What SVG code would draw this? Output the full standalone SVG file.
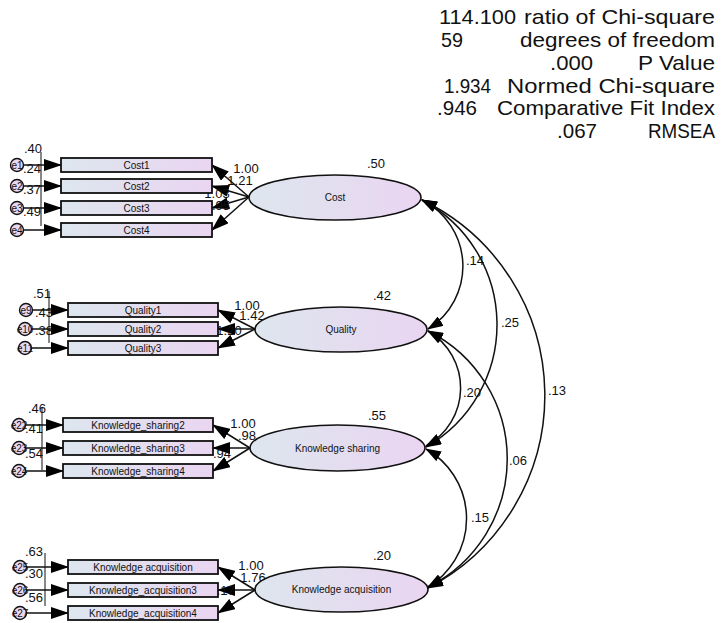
<svg xmlns="http://www.w3.org/2000/svg" width="726" height="623" viewBox="0 0 726 623">
<defs>
<linearGradient id="g" x1="0" y1="0" x2="1" y2="0">
<stop offset="0" stop-color="#dde6ee"/>
<stop offset="1" stop-color="#ead5f1"/>
</linearGradient>
<marker id="ah" markerUnits="userSpaceOnUse" markerWidth="18" markerHeight="12" refX="17" refY="6" orient="auto-start-reverse" viewBox="0 0 18 12">
<path d="M0,0 L18,6 L0,12 z" fill="#000"/>
</marker>
<marker id="ac" markerUnits="userSpaceOnUse" markerWidth="16" markerHeight="11" refX="15" refY="5.5" orient="auto-start-reverse" viewBox="0 0 16 11">
<path d="M0,0 L16,5.5 L0,11 z" fill="#000"/>
</marker>
</defs>
<style>
text{font-family:"Liberation Sans",Arial,sans-serif;fill:#111}
.box{fill:url(#g);stroke:#111;stroke-width:1.8}
.lat{fill:url(#g);stroke:#111;stroke-width:1.6}
.err{fill:#ead8f2;stroke:#111;stroke-width:1.4}
.bl{font-size:10px;text-anchor:middle}
.ll{font-size:10px;text-anchor:middle}
.el{font-size:10px;text-anchor:middle}
.num{font-size:13px}
.mid{text-anchor:middle}
.end{text-anchor:end}
.st{font-size:21px}
.ar{stroke:#111;stroke-width:1.5;fill:none;marker-end:url(#ah)}
.cv{stroke:#111;stroke-width:1.5;fill:none;marker-start:url(#ac);marker-end:url(#ac)}
.tk{stroke:#111;stroke-width:1}
</style>

<g id="fit-stats" class="st">
<text x="439" y="24" textLength="77" lengthAdjust="spacingAndGlyphs">114.100</text><text x="524" y="24" textLength="191" lengthAdjust="spacingAndGlyphs">ratio of Chi-square</text>
<text x="441" y="47" textLength="22" lengthAdjust="spacingAndGlyphs">59</text><text x="520" y="47" textLength="195" lengthAdjust="spacingAndGlyphs">degrees of freedom</text>
<text x="550" y="70" textLength="43" lengthAdjust="spacingAndGlyphs">.000</text><text x="638" y="70" textLength="77" lengthAdjust="spacingAndGlyphs">P Value</text>
<text x="444" y="93" textLength="47" lengthAdjust="spacingAndGlyphs">1.934</text><text x="507" y="93" textLength="208" lengthAdjust="spacingAndGlyphs">Normed Chi-square</text>
<text x="437" y="115" textLength="40" lengthAdjust="spacingAndGlyphs">.946</text><text x="497" y="115" textLength="218" lengthAdjust="spacingAndGlyphs">Comparative Fit Index</text>
<text x="557" y="138" textLength="40" lengthAdjust="spacingAndGlyphs">.067</text><text x="648" y="138" textLength="67" lengthAdjust="spacingAndGlyphs">RMSEA</text>
</g>

<g id="connectors">
<line class="tk" x1="41" y1="152" x2="41" y2="226"/>
<line class="tk" x1="49" y1="291" x2="49" y2="343"/>
<line class="tk" x1="42" y1="407" x2="42" y2="470"/>
<line class="tk" x1="45" y1="553" x2="45" y2="606"/>
<line class="ar" x1="23" y1="165" x2="61" y2="165"/>
<line class="ar" x1="23" y1="186" x2="61" y2="186"/>
<line class="ar" x1="23" y1="208" x2="61" y2="208"/>
<line class="ar" x1="23" y1="230" x2="61" y2="230"/>
<line class="ar" x1="32" y1="310" x2="68" y2="310"/>
<line class="ar" x1="31" y1="329" x2="68" y2="329"/>
<line class="ar" x1="31" y1="348" x2="68" y2="348"/>
<line class="ar" x1="25" y1="425" x2="63" y2="425"/>
<line class="ar" x1="25" y1="448" x2="63" y2="448"/>
<line class="ar" x1="25" y1="471" x2="63" y2="471"/>
<line class="ar" x1="26" y1="567" x2="68" y2="567"/>
<line class="ar" x1="26" y1="590" x2="68" y2="590"/>
<line class="ar" x1="26" y1="613" x2="68" y2="613"/>
<line class="ar" x1="249" y1="197" x2="212" y2="165"/>
<line class="ar" x1="249" y1="197" x2="212" y2="186"/>
<line class="ar" x1="249" y1="197" x2="212" y2="208"/>
<line class="ar" x1="249" y1="197" x2="212" y2="230"/>
<line class="ar" x1="255" y1="329" x2="218" y2="310"/>
<line class="ar" x1="255" y1="329" x2="218" y2="329"/>
<line class="ar" x1="255" y1="329" x2="218" y2="348"/>
<line class="ar" x1="250" y1="448" x2="213" y2="425"/>
<line class="ar" x1="250" y1="448" x2="213" y2="448"/>
<line class="ar" x1="250" y1="448" x2="213" y2="471"/>
<line class="ar" x1="255" y1="590" x2="218" y2="567"/>
<line class="ar" x1="255" y1="590" x2="218" y2="590"/>
<line class="ar" x1="255" y1="590" x2="218" y2="613"/>
<path class="cv" d="M422,200 A74,74 0 0 1 428,329"/>
<path class="cv" d="M422,200 A141,141 0 0 1 426,447"/>
<path class="cv" d="M422,200 A217,217 0 0 1 428,588"/>
<path class="cv" d="M428,331 A66,66 0 0 1 426,446"/>
<path class="cv" d="M428,331 A143,143 0 0 1 428,587"/>
<path class="cv" d="M426,449 A80,80 0 0 1 428,587"/>
</g>

<g id="labels" class="num">
<text x="475" y="265" class="mid">.14</text>
<text x="510" y="327" class="mid">.25</text>
<text x="557" y="395" class="mid">.13</text>
<text x="472" y="397" class="mid">.20</text>
<text x="518" y="465" class="mid">.06</text>
<text x="480" y="522" class="mid">.15</text>
<text x="246" y="173" class="mid">1.00</text>
<text x="240" y="185" class="mid">1.21</text>
<text x="217" y="198" class="mid">1.03</text>
<text x="221" y="210" class="mid">.95</text>
<text x="247" y="310" class="mid">1.00</text>
<text x="252" y="320" class="mid">1.42</text>
<text x="229" y="335" class="mid">1.20</text>
<text x="243" y="428" class="mid">1.00</text>
<text x="247" y="440" class="mid">.98</text>
<text x="222" y="458" class="mid">.94</text>
<text x="251" y="570" class="mid">1.00</text>
<text x="253" y="582" class="mid">1.76</text>
<text x="222" y="595" class="mid">1.17</text>
<text x="33" y="153" class="mid">.40</text>
<text x="41" y="173" class="end">.24</text>
<text x="41" y="194" class="end">.37</text>
<text x="41" y="216" class="end">.49</text>
<text x="42" y="298" class="mid">.51</text>
<text x="53" y="317" class="end">.43</text>
<text x="53" y="335" class="end">.38</text>
<text x="37" y="413" class="mid">.46</text>
<text x="43" y="433" class="end">.41</text>
<text x="43" y="458" class="end">.54</text>
<text x="34" y="556" class="mid">.63</text>
<text x="43" y="578" class="end">.30</text>
<text x="43" y="602" class="end">.56</text>
<text x="376" y="168" class="mid">.50</text>
<text x="382" y="300" class="mid">.42</text>
<text x="377" y="420" class="mid">.55</text>
<text x="382" y="560" class="mid">.20</text>
</g>

<g id="e1"><circle class="err" cx="17" cy="165" r="6.5"/><text class="el" x="17" y="168.5">e1</text></g>
<g id="e2"><circle class="err" cx="17" cy="186" r="6.5"/><text class="el" x="17" y="189.5">e2</text></g>
<g id="e3"><circle class="err" cx="17" cy="208" r="6.5"/><text class="el" x="17" y="211.5">e3</text></g>
<g id="e4"><circle class="err" cx="17" cy="230" r="6.5"/><text class="el" x="17" y="233.5">e4</text></g>
<g id="e9"><circle class="err" cx="26" cy="310" r="6.5"/><text class="el" x="26" y="313.5">e9</text></g>
<g id="e10"><circle class="err" cx="25" cy="329" r="6.5"/><text class="el" x="25" y="332.5">e10</text></g>
<g id="e11"><circle class="err" cx="25" cy="348" r="6.5"/><text class="el" x="25" y="351.5">e11</text></g>
<g id="e22"><circle class="err" cx="19" cy="425" r="6.5"/><text class="el" x="19" y="428.5">e22</text></g>
<g id="e23"><circle class="err" cx="19" cy="448" r="6.5"/><text class="el" x="19" y="451.5">e23</text></g>
<g id="e24"><circle class="err" cx="19" cy="471" r="6.5"/><text class="el" x="19" y="474.5">e24</text></g>
<g id="e25"><circle class="err" cx="20" cy="567" r="6.5"/><text class="el" x="20" y="570.5">e25</text></g>
<g id="e26"><circle class="err" cx="20" cy="590" r="6.5"/><text class="el" x="20" y="593.5">e26</text></g>
<g id="e27"><circle class="err" cx="20" cy="613" r="6.5"/><text class="el" x="20" y="616.5">e27</text></g>

<g id="Cost1"><rect class="box" x="61" y="158" width="151" height="14"/><text class="bl" x="136.5" y="168.5">Cost1</text></g>
<g id="Cost2"><rect class="box" x="61" y="179" width="151" height="14"/><text class="bl" x="136.5" y="189.5">Cost2</text></g>
<g id="Cost3"><rect class="box" x="61" y="201" width="151" height="14"/><text class="bl" x="136.5" y="211.5">Cost3</text></g>
<g id="Cost4"><rect class="box" x="61" y="223" width="151" height="14"/><text class="bl" x="136.5" y="233.5">Cost4</text></g>
<g id="Quality1"><rect class="box" x="68" y="303" width="150" height="14"/><text class="bl" x="143" y="313.5">Quality1</text></g>
<g id="Quality2"><rect class="box" x="68" y="322" width="150" height="14"/><text class="bl" x="143" y="332.5">Quality2</text></g>
<g id="Quality3"><rect class="box" x="68" y="341" width="150" height="14"/><text class="bl" x="143" y="351.5">Quality3</text></g>
<g id="KS2"><rect class="box" x="63" y="418" width="150" height="14"/><text class="bl" x="138" y="428.5">Knowledge_sharing2</text></g>
<g id="KS3"><rect class="box" x="63" y="441" width="150" height="14"/><text class="bl" x="138" y="451.5">Knowledge_sharing3</text></g>
<g id="KS4"><rect class="box" x="63" y="464" width="150" height="14"/><text class="bl" x="138" y="474.5">Knowledge_sharing4</text></g>
<g id="KA1"><rect class="box" x="68" y="560" width="150" height="14"/><text class="bl" x="143" y="570.5">Knowledge acquisition</text></g>
<g id="KA3"><rect class="box" x="68" y="583" width="150" height="14"/><text class="bl" x="143" y="593.5">Knowledge_acquisition3</text></g>
<g id="KA4"><rect class="box" x="68" y="606" width="150" height="14"/><text class="bl" x="143" y="616.5">Knowledge_acquisition4</text></g>

<g id="Cost"><ellipse class="lat" cx="335" cy="197.5" rx="86" ry="22.5"/><text class="ll" x="335" y="201">Cost</text></g>
<g id="Quality"><ellipse class="lat" cx="341" cy="329.5" rx="86" ry="22.5"/><text class="ll" x="341" y="333">Quality</text></g>
<g id="KnowledgeSharing"><ellipse class="lat" cx="337.5" cy="448" rx="87.5" ry="23"/><text class="ll" x="337.5" y="451.5">Knowledge sharing</text></g>
<g id="KnowledgeAcquisition"><ellipse class="lat" cx="341.5" cy="589.5" rx="86.5" ry="22.5"/><text class="ll" x="341.5" y="593">Knowledge acquisition</text></g>
</svg>
